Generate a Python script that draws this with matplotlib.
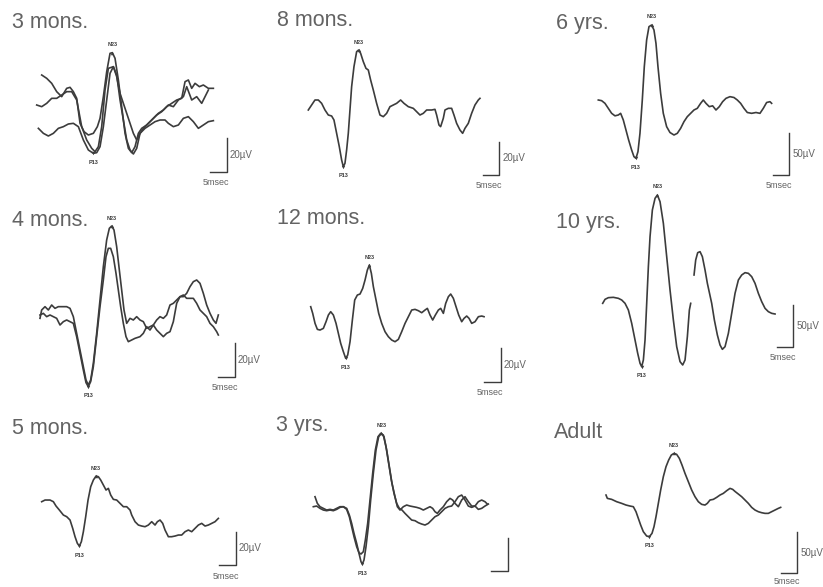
import numpy as np
import matplotlib
matplotlib.use('Agg')
from matplotlib import pyplot as plt

# Figure size in pixels (saved at 100 dpi)
W, H = 823, 587

# Drawing scale: pixels per millisecond and pixels per microvolt
PX_MS = 10 / 3
PX_UV_20 = 5 / 3      # infant panels (20 µV bar)
PX_UV_50 = 2.5 / 3    # older panels (50 µV bar)

# Averaged waveforms as (latency ms, amplitude µV) pairs, NaN = break in the trace
WAVE_3MON_A = np.array([
    (1.5, 15), (3.0, 13), (4.5, 10), (6.0, 5), (7.5, 2), (9.0, 7), (10.0, 7.6), (11.0, 5),
    (12.0, 1), (13.0, -14), (14.2, -19), (15.5, -21), (17.0, -20), (18.2, -16), (19.0, -11),
    (20.0, 2), (21.0, 17), (22.0, 28), (22.7, 28.4), (23.5, 25), (24.5, 12), (25.5, -4),
    (26.5, -20), (27.5, -29), (28.5, -31.6), (29.5, -28), (30.5, -20), (31.5, -17), (33.0, -15),
    (34.5, -12), (36.0, -9), (37.5, -7), (39.0, -4), (40.5, -2), (42.0, 0), (43.5, 1),
    (44.5, 11), (45.5, 12), (46.5, 7), (47.5, 10), (48.8, 8), (50.0, 9), (51.5, 7), (53.0, 7)])
WAVE_3MON_B = np.array([
    (0, -3), (1.5, -4), (3, -2), (4.5, 1), (6, 1), (7.5, 3), (9, 5), (10.5, 5), (12, 0),
    (13.5, -16), (15, -24), (16.5, -29), (17.5, -31), (18.5, -28), (19.5, -16), (20.5, 6),
    (21.5, 19), (23, 20), (24, 15), (25, 0), (26, -12), (27, -24), (28, -30), (29, -32.4),
    (30, -29), (31, -20), (32, -17), (33.5, -14), (35, -11), (36.5, -8), (38, -6), (39.5, -3),
    (41, -4), (42.5, 0), (44, 2), (45, 8), (46.5, 0), (48, 2), (49.5, -2), (50.5, 2), (51.5, 6)])
WAVE_3MON_C = np.array([
    (0.5, -17), (2, -20), (3.5, -21.6), (5, -20), (6.5, -17), (8, -16), (9.5, -14.4), (11, -14),
    (12.5, -16), (14, -24), (15.5, -30), (17, -32), (18, -31.6), (19, -28), (20, -16), (21, 0),
    (22, 16), (23, 20), (24, 14), (25, 4), (26, -2), (27, -8), (28, -14), (29, -20), (30, -24),
    (31, -20), (32.5, -17), (34, -15), (35.5, -13), (37, -12), (38.5, -12), (39.5, -14),
    (41, -16), (42.5, -15), (44, -11), (45.5, -10), (47, -13), (48.5, -17), (50, -15),
    (51.5, -13), (53, -12.4)])

WAVE_8MON = np.array([
    (0, 0), (1, 3), (2, 6), (3, 6), (4, 4), (5, 0), (6, -3), (7, -3.6), (7.7, -6), (8.5, -14),
    (9.3, -22), (10, -30), (10.5, -34), (11, -32), (11.5, -24), (12, -14), (12.5, 0), (13, 14),
    (13.7, 26), (14.5, 35), (15.1, 36), (15.7, 34), (16.5, 29), (17.3, 25), (18, 24), (18.7, 18),
    (19.5, 12), (20.5, 4), (21.5, -3), (22.5, -4), (23.5, -2), (24.5, 2), (25.5, 3), (26.5, 4),
    (27.7, 6), (28.7, 4), (30, 2), (31.5, 1), (32.5, -1), (33.5, -3), (34.5, -2), (35.5, 0),
    (37, 0), (38, 0.4), (38.5, -3), (39.2, -9), (39.7, -10), (40.5, -5), (41, 0), (42, 1),
    (43, 1), (43.7, -3), (44.5, -8), (45.5, -12), (46.3, -14), (47, -11), (48, -8), (49, -2),
    (50, 3), (51, 6), (51.5, 7)])

WAVE_6YR = np.array([
    (0, 0), (1, -0.8), (2, -4), (3, -10), (4, -16), (5, -19), (6, -18), (6.7, -16), (7.5, -24),
    (8.3, -36), (9.1, -48), (10, -60), (10.7, -68), (11.3, -70), (11.9, -62), (12.5, -40),
    (13.2, 0), (13.8, 40), (14.5, 72), (15.2, 88), (16, 90), (16.7, 84), (17.3, 68), (17.9, 40),
    (18.7, 8), (19.5, -16), (20.5, -32), (21.5, -39), (22.7, -42), (23.7, -40), (24.7, -34),
    (25.7, -26), (26.7, -20), (27.7, -16), (28.7, -12), (29.7, -10), (30.7, -4), (31.5, 0),
    (32.3, -4), (33.3, -8), (34.3, -7), (35.3, -12), (36.3, -8), (37.3, -2), (38.3, 2),
    (39.5, 4), (40.7, 3), (41.7, 0), (42.7, -4), (43.7, -10), (44.7, -15), (46, -16),
    (47.3, -15), (48.5, -16), (49.5, -10), (50.5, -3), (51.5, -2), (52, -4)])

WAVE_4MON_A = np.array([
    (0, -2), (0.5, 3), (1.5, 5), (2.5, 3), (3.5, 6), (4.5, 4), (5.5, 5), (6.5, 5), (8, 5),
    (9, 4), (10, -1), (11, -11), (12, -21), (13, -31), (13.8, -39), (14.5, -42), (15.2, -39),
    (16, -29), (17, -11), (18, 9), (19, 29), (20, 45), (20.8, 52), (21.5, 53.4), (22.2, 51),
    (23, 41), (23.8, 27), (24.5, 15), (25.2, 3), (26, -5), (27, -2), (28, -3), (29, -1),
    (30, -3), (31, -4), (32, -8), (33, -7), (34, -6), (35, -3), (36, -1), (37, -2), (38, 0),
    (39, 6), (40, 7), (41, 9), (42, 11), (43, 11), (44, 13), (45, 17), (46, 20), (47, 21),
    (48, 19), (49, 13), (50, 6), (51, 1), (52, -3), (52.8, -5), (53.5, 0)])
WAVE_4MON_B = np.array([
    (0, 0), (1, 1), (2, -1), (3, 0), (4, -1), (5, -2), (6, -6), (7, -4), (8, -3), (9, -4),
    (10, -5), (11, -13), (12, -23), (13, -33), (13.8, -40.6), (14.5, -43), (15.2, -40),
    (16, -31), (17, -13), (18, 5), (19, 21), (19.8, 35), (20.5, 40), (21.2, 40), (22, 35),
    (22.8, 25), (23.5, 15), (24.2, 5), (25, -5), (25.8, -13), (26.5, -16), (27.5, -15),
    (28.5, -14), (30, -13), (31, -11), (32, -7), (33, -9), (34, -6), (35, -9), (36, -11),
    (37, -13), (38, -11), (39, -10), (40, -4), (41, 7), (42, 11), (43, 12), (44, 10), (45, 10),
    (46, 10), (47, 7), (48, 3), (49, 1), (50, -1), (51, -5), (52, -7), (53, -10), (53.5, -12)])

WAVE_12MON = np.array([
    (0, 0), (0.6, -4), (1.3, -10), (2, -13.6), (2.8, -14), (3.8, -13), (4.6, -9), (5.3, -5),
    (6, -3), (6.8, -5), (7.6, -10), (8.3, -16), (9, -22), (9.8, -27), (10.5, -31), (11.1, -29),
    (11.8, -21), (12.5, -8), (13.2, 4), (14, 7), (14.8, 7.6), (15.6, 11), (16.3, 16), (17, 22),
    (17.6, 25), (18.2, 20), (18.8, 12), (19.6, 4), (20.4, -4), (21.3, -10), (22.3, -15),
    (23.3, -18), (24.3, -20), (25.3, -21), (26.3, -19.6), (27.3, -15), (28.3, -10), (29.3, -6),
    (30.3, -2), (31.3, -1.6), (32.3, -2.4), (33.3, -3.6), (34.3, -2), (35, -1), (35.8, -5),
    (36.6, -8), (37.4, -5), (38.3, -2), (39, -1), (39.8, -4), (40.5, 2), (41.3, 6), (42, 7.6),
    (42.8, 5), (43.6, 0), (44.4, -5), (45.3, -9), (46, -7), (46.8, -5.6), (47.5, -7),
    (48.3, -10), (49.3, -9), (50.3, -6), (51.3, -5.6), (52, -6)])

WAVE_10YR = np.array([
    (0, -4), (0.7, 0.8), (1.7, 2.8), (3.2, 3.2), (4.7, 2), (5.7, 0), (6.7, -4), (7.7, -12),
    (8.7, -28), (9.7, -48), (10.5, -64), (11.2, -76), (11.7, -80), (12.2, -72), (12.7, -48),
    (13.2, -4), (13.7, 40), (14.2, 76), (14.9, 108), (15.7, 122), (16.4, 126), (17.2, 118),
    (18.2, 92), (19.2, 52), (20.2, 12), (21.2, -24), (22.2, -56), (23.2, -74), (24, -78),
    (24.7, -72), (25.4, -44), (26, -12), (26.4, -4), (np.nan, np.nan),
    (27.4, 30), (27.9, 48), (28.5, 56.8), (29.2, 58), (29.9, 52), (30.7, 36), (31.4, 20),
    (32.7, -4), (33.5, -24), (34.4, -42), (35.2, -54), (35.9, -59.2), (36.7, -56), (37.7, -40),
    (38.7, -16), (39.7, 8), (40.7, 24), (41.7, 30), (42.7, 32.8), (43.7, 32), (44.7, 28),
    (45.7, 20), (46.7, 8), (47.7, -2), (48.7, -10), (49.7, -14), (50.7, -16), (51.7, -16.8)])

WAVE_5MON = np.array([
    (0, 0), (1, 1), (2.5, 1), (3.5, 0), (4.3, -2.6), (5.3, -5), (6.5, -8), (7.5, -9),
    (8.5, -11), (9.3, -16), (10, -21), (10.7, -25), (11.3, -26.6), (11.9, -24), (12.5, -18),
    (13.2, -9), (13.9, 1), (14.7, 9), (15.5, 13), (16.3, 15.4), (17, 15), (17.7, 13), (18.5, 10),
    (19.3, 7), (20, 8), (20.7, 4), (21.5, 1.4), (22.5, 1), (23.5, -1), (24.5, -3), (25.5, -3),
    (26.5, -5), (27, -8), (28, -12), (29, -14), (30, -14.6), (31, -15), (32, -14), (33, -12),
    (34, -14), (34.7, -12), (35.5, -11), (36.3, -13), (37, -17), (38, -21), (39, -21),
    (40, -20.6), (41, -20), (42, -20), (43, -18), (44, -17), (45, -18), (46, -16), (47, -14),
    (48, -13), (49, -14.6), (50, -14), (51, -13), (52, -12), (53, -10)])

WAVE_3YR_A = np.array([
    (0, 6), (0.7, 2), (1.5, 0), (2.5, -1), (3.5, -2), (4.5, -1.6), (5.5, -2), (6.5, -1),
    (7.5, 0), (8.5, 0), (9.5, -1), (10.3, -5), (11, -10), (11.7, -16), (12.5, -22), (13.2, -28),
    (13.8, -33), (14.2, -34.4), (14.7, -32), (15.3, -24), (16, -12), (16.7, 4), (17.5, 20),
    (18.3, 34), (19.1, 42), (19.9, 44), (20.7, 42), (21.5, 34), (22.3, 24), (23.1, 14), (24, 6),
    (24.7, 0), (25.5, -2), (26.5, 0), (27.5, 1), (28.5, 0.4), (29.5, 0), (30.5, -0.4),
    (31.5, -1), (32.5, -2), (33.5, -1), (34.5, 0), (35.3, -1), (36, -3), (36.7, -4), (37.5, -2),
    (38.5, 0), (39.5, 3), (40.5, 5), (41.3, 4), (42, 2), (43, 0), (44, 4), (45, 6), (46, 3),
    (47, 0.4), (48, 0.4), (49, 3), (50, 4), (51, 3), (51.7, 1.6)])
WAVE_3YR_B = np.array([
    (-0.5, 0), (0.5, 0.4), (1.5, -1), (2.5, -2), (3.5, -2.4), (4.5, -2), (5.5, -2.4),
    (6.5, -1.6), (7.5, -0.4), (8.5, 0), (9.5, -1.6), (10.3, -6), (11, -12), (11.7, -18),
    (12.5, -24), (13.2, -27.6), (13.8, -28.4), (14.5, -27), (15.1, -20), (15.8, -10), (16.5, 4),
    (17.3, 20), (18.1, 34), (18.9, 42), (19.7, 44), (20.5, 43), (21.3, 36), (22.1, 26),
    (22.9, 16), (23.7, 8), (24.5, 2), (25.3, -1), (26.1, -2), (27, -4), (28, -6), (29, -8),
    (30, -8.4), (31, -9.6), (32, -10.4), (33, -11), (34, -10), (35, -8), (36, -6), (37, -5),
    (38, -3), (39, -1), (40, 0), (41, 0.4), (42, 3), (43, 6), (44, 7), (45, 4), (46, 0.4),
    (47, -0.4), (48, 0.4), (49, -1.6), (50, -1), (51, 0.4), (52, 1.6)])

WAVE_ADULT = np.array([
    (0, 2), (0.4, -2), (1.7, -3.2), (3.2, -6), (4.7, -8), (6, -10), (7.2, -11.2), (8.2, -12),
    (9, -18), (9.7, -26), (10.4, -34), (11.2, -42), (12.2, -47.2), (13, -48), (13.8, -44),
    (14.4, -36), (15, -24), (15.7, -8), (16.4, 8), (17.2, 24), (18, 36), (18.8, 44), (19.6, 50),
    (20.4, 52), (21.2, 50.8), (22, 46), (22.8, 38), (23.7, 28), (24.7, 18), (25.7, 8), (26.7, 0),
    (27.7, -6), (28.7, -9.2), (29.7, -10), (30.4, -8), (31.2, -4), (32.2, -3.2), (33.2, -0.8),
    (34.2, 2), (35.2, 4), (36.2, 7.2), (37.2, 10), (38, 8.8), (38.8, 6), (39.7, 3.2), (40.7, 0),
    (41.7, -4), (42.7, -8), (43.7, -12.8), (44.7, -16), (45.7, -18), (46.7, -19.2), (47.7, -20),
    (48.7, -20), (49.7, -18), (50.7, -16), (51.7, -14), (52.4, -12.8)])

# Panel layout: title, traces, pixel origin of (0 ms, 0 µV), scale, title position,
# corner of the calibration bar (ms, µV), bar height, label gap under the bar (px)
PANELS = [
    dict(title='3 mons.', waves=[WAVE_3MON_A, WAVE_3MON_B, WAVE_3MON_C], origin=(36.7, 100),
         px_uv=PX_UV_20, title_xy=(12, 23), bar=(57, -43), bar_uv=20, msec_dy=11),
    dict(title='8 mons.', waves=[WAVE_8MON], origin=(308.3, 110),
         px_uv=PX_UV_20, title_xy=(277, 21), bar=(57.3, -39), bar_uv=20, msec_dy=11),
    dict(title='6 yrs.', waves=[WAVE_6YR], origin=(598.3, 100),
         px_uv=PX_UV_50, title_xy=(556, 23), bar=(57.3, -90), bar_uv=50, msec_dy=11),
    dict(title='4 mons.', waves=[WAVE_4MON_A, WAVE_4MON_B], origin=(40, 315),
         px_uv=PX_UV_20, title_xy=(12, 220), bar=(58.5, -37), bar_uv=20, msec_dy=11),
    dict(title='12 mons.', waves=[WAVE_12MON], origin=(310.7, 306.7),
         px_uv=PX_UV_20, title_xy=(277, 219), bar=(57, -45), bar_uv=20, msec_dy=11),
    dict(title='10 yrs.', waves=[WAVE_10YR], origin=(602.7, 300),
         px_uv=PX_UV_50, title_xy=(556, 222), bar=(57.2, -56), bar_uv=50, msec_dy=11),
    dict(title='5 mons.', waves=[WAVE_5MON], origin=(41.7, 501.7),
         px_uv=PX_UV_20, title_xy=(12, 429), bar=(58.3, -38), bar_uv=20, msec_dy=11),
    dict(title='3 yrs.', waves=[WAVE_3YR_A, WAVE_3YR_B], origin=(315, 506.7),
         px_uv=PX_UV_20, title_xy=(276, 426), bar=(57.8, -38.6), bar_uv=20, msec_dy=None),
    dict(title='Adult', waves=[WAVE_ADULT], origin=(606, 496.7),
         px_uv=PX_UV_50, title_xy=(554, 433), bar=(57.4, -92), bar_uv=50, msec_dy=8),
]

LINE_COLOR = '#3c3c3c'
TEXT_COLOR = '#636363'

plt.rcParams['font.family'] = ['Liberation Sans', 'DejaVu Sans']

fig = plt.figure(figsize=(W / 100, H / 100), dpi=100)
fig.patch.set_facecolor('white')

for p in PANELS:
    ox, oy = p['origin']
    px_uv = p['px_uv']

    # Every panel gets a transparent full-figure axes with its own ms / µV scale
    ax = fig.add_axes([0, 0, 1, 1])
    ax.set_xlim(-ox / PX_MS, (W - ox) / PX_MS)
    ax.set_ylim(-(H - oy) / px_uv, oy / px_uv)
    ax.axis('off')
    ax.patch.set_alpha(0)

    for w in p['waves']:
        ax.plot(w[:, 0], w[:, 1], color=LINE_COLOR, lw=1.2, solid_joinstyle='round')

    # N23 at the largest positive peak, P13 at the trough before it
    allw = np.vstack(p['waves'])
    i = np.nanargmax(allw[:, 1])
    t_n, v_n = allw[i]
    early = allw[allw[:, 0] < t_n]
    j = np.nanargmin(early[:, 1])
    t_p, v_p = early[j]
    ax.plot(t_n, v_n, marker='^', ms=2.5, color=LINE_COLOR, mew=0)
    ax.plot(t_p, v_p, marker='v', ms=2.5, color=LINE_COLOR, mew=0)
    ax.annotate('N23', (t_n, v_n), xytext=(0, 8), textcoords='offset pixels',
                ha='center', va='center', fontsize=4, fontweight='bold', color=LINE_COLOR)
    ax.annotate('P13', (t_p, v_p), xytext=(0, -9), textcoords='offset pixels',
                ha='center', va='center', fontsize=4, fontweight='bold', color=LINE_COLOR)

    # Calibration bar: 5 ms horizontal, 20 or 50 µV vertical
    bt, bv = p['bar']
    ax.plot([bt - 5, bt, bt], [bv, bv, bv + p['bar_uv']], color=LINE_COLOR, lw=1.0)
    if p['msec_dy'] is not None:
        ax.annotate(f"{p['bar_uv']}\u00b5V", (bt, bv + p['bar_uv'] / 2), xytext=(3, 0),
                    textcoords='offset pixels', ha='left', va='center',
                    fontsize=7, color=TEXT_COLOR)
        ax.annotate('5msec', (bt - 2.5, bv), xytext=(-2, -p['msec_dy']),
                    textcoords='offset pixels', ha='center', va='center',
                    fontsize=6.5, color=TEXT_COLOR)

    tx, ty = p['title_xy']
    fig.text(tx / W, 1 - ty / H, p['title'], fontsize=15.5, color=TEXT_COLOR,
             ha='left', va='center')

fig.savefig('out.png', dpi=100)
